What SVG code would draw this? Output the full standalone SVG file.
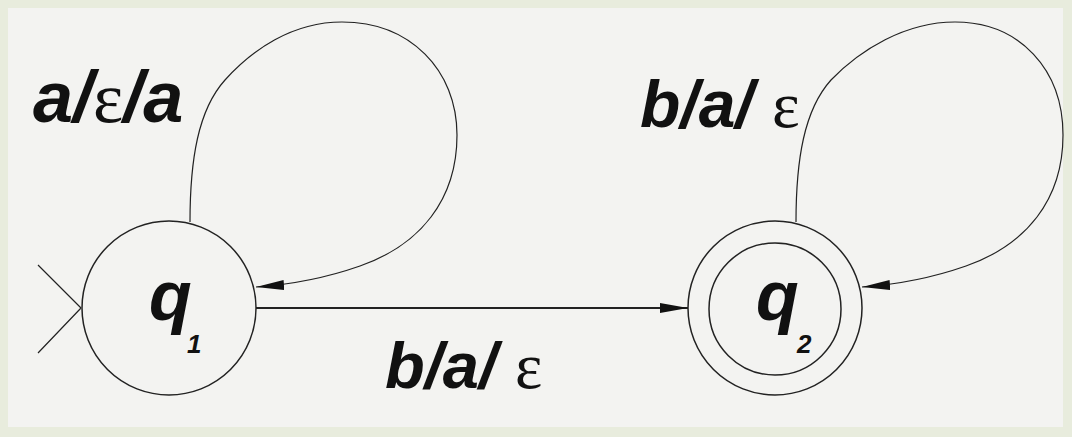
<svg xmlns="http://www.w3.org/2000/svg" width="1072" height="437" viewBox="0 0 1072 437">
  <style>
    .state { fill: none; stroke: #222; stroke-width: 1.5; }
    .edge { fill: none; stroke: #222; stroke-width: 1.2; }
    .lbl { font-family: "Liberation Sans", Arial, sans-serif; font-weight: bold; font-style: italic; fill: #111; }
    .eps { font-family: "Liberation Serif", "Times New Roman", serif; font-weight: normal; font-style: normal; }
    .sub { font-size: 26px; }
  </style>
  <defs>
    <marker id="arrow" markerUnits="userSpaceOnUse" markerWidth="30" markerHeight="12" refX="28" refY="5" orient="auto">
      <path d="M0,0 L28,5 L0,10 Z" fill="#111"/>
    </marker>
  </defs>
  <rect x="0" y="0" width="1072" height="437" fill="#e8ecdd"/>
  <rect x="8" y="8" width="1055" height="419" fill="#f3f3f1"/>

  <g id="connectors">
    <path id="start" class="edge" d="M38,265 L81,308 M38,353 L81,308"/>
    <path id="loop-q1" class="edge" marker-end="url(#arrow)" d="M190,222 C190,160 198,110 225,80 C252,50 292,22 342,22 C410,22 457,70 457,135 C457,200 420,245 360,266 C320,280 285,285 256,287"/>
    <path id="loop-q2" class="edge" marker-end="url(#arrow)" d="M796,222 C796,160 804,110 831,80 C860,50 905,22 955,22 C1020,22 1063,70 1063,135 C1063,200 1026,245 966,266 C926,280 891,285 862,287"/>
    <path id="q1-q2" class="edge" style="stroke-width:1.8" marker-end="url(#arrow)" d="M256,308 L688,308"/>
    <text class="lbl" x="33" y="122" font-size="72">a/<tspan class="eps">ε</tspan>/a</text>
    <text class="lbl" x="640" y="127" font-size="66">b/a/ <tspan class="eps">ε</tspan></text>
    <text class="lbl" x="385" y="388" font-size="65">b/a/ <tspan class="eps">ε</tspan></text>
  </g>

  <g id="q1">
    <circle class="state" cx="169" cy="308" r="87"/>
    <text class="lbl" x="149" y="320" font-size="70">q</text>
    <text class="lbl sub" x="187" y="353">1</text>
  </g>

  <g id="q2">
    <circle class="state" cx="775" cy="308" r="87"/>
    <circle class="state" cx="775" cy="309" r="66"/>
    <text class="lbl" x="756" y="320" font-size="70">q</text>
    <text class="lbl sub" x="797" y="353">2</text>
  </g>
</svg>
